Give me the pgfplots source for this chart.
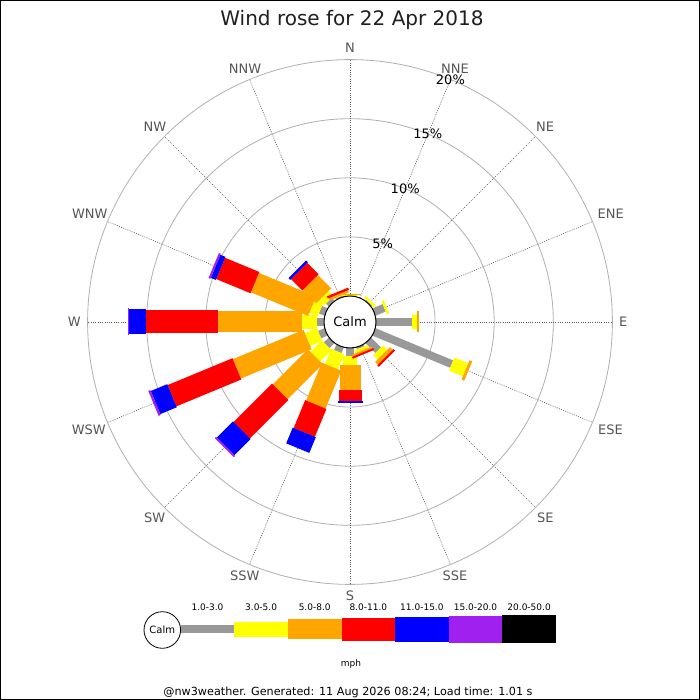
\documentclass[border=0pt]{standalone}
\usepackage{pgfplots}
\pgfplotsset{compat=1.18}
\usepackage{pgfplotstable}
\usepackage{fontspec}
\setmainfont{DejaVu Sans}
\definecolor{cgray}{RGB}{153,153,153}
\definecolor{cyellow}{RGB}{255,255,0}
\definecolor{corange}{RGB}{255,165,0}
\definecolor{cred}{RGB}{255,0,0}
\definecolor{cblue}{RGB}{0,0,255}
\definecolor{cpurple}{RGB}{160,32,240}
\definecolor{gridc}{RGB}{176,176,176}
\definecolor{dotc}{RGB}{90,90,90}
\definecolor{labc}{RGB}{85,85,85}

% cumulative percentages per direction (compass degrees)
% c1 1-3, c2 3-5, c3 5-8, c4 8-11, c5 11-15, c6 15-20 mph
\pgfplotstableread{
ang   c0 c1   c2   c3   c4    c5    c6
0     0  0.05 0.10 0.17 0.17  0.17  0.17
22.5  0  0    0    0    0     0     0
45    0  0.10 0.30 0.30 0.30  0.30  0.30
67.5  0  0.93 1.14 1.14 1.14  1.14  1.14
90    0  3.02 3.44 3.66 3.66  3.66  3.66
112.5 0  7.11 8.38 8.63 8.63  8.63  8.63
135   0  1.18 1.69 2.03 2.20  2.20  2.20
157.5 0  0.17 0.42 0.59 0.76  0.76  0.76
180   0  0.68 1.44 3.55 4.46  4.68  4.68
202.5 0  0.51 1.89 5.36 7.91  9.35  9.35
225   0  0.59 1.95 6.16 10.74 12.69 12.84
247.5 0  0.59 1.69 8.16 14.10 15.61 15.80
270   0  0.59 1.89 8.97 15.06 16.47 16.62
292.5 0  0.51 1.27 6.51 9.64  10.11 10.28
315   0  0.34 0.93 2.54 3.89  4.10  4.10
337.5 0  0.10 0.15 0.35 0.55  0.55  0.55
}\wind

\newcommand{\fs}[1]{\fontsize{#1bp}{#1bp}\selectfont}

\newcommand{\seg}[4]{%
\addplot[draw=#1, line width=#2, mark=none,
  quiver={u={11.82*(\thisrow{#4}-\thisrow{#3})*sin(\thisrow{ang})},
          v={11.82*(\thisrow{#4}-\thisrow{#3})*cos(\thisrow{ang})}}]
  table[x expr={(26+11.82*\thisrow{#3})*sin(\thisrow{ang})},
        y expr={(26+11.82*\thisrow{#3})*cos(\thisrow{ang})}] {\wind};}

\begin{document}
\begin{tikzpicture}[x=1bp,y=1bp]
\useasboundingbox (0,0) rectangle (700,700);
\fill[white] (0,0) rectangle (700,700);
% grid
\begin{scope}[shift={(350,378)}]
\foreach \r in {85.1,144.2,203.3,262.4}
  \draw[gridc, line width=0.8bp] (0,0) circle[radius=\r bp];
\foreach \a in {0,22.5,...,337.5}
  \draw[dotc, line width=0.6bp, dash pattern=on 1bp off 1.3bp] ({90-\a}:26) -- ({90-\a}:262.4);
\end{scope}

\begin{axis}[at={(0,0)}, anchor=south west, scale only axis,
  width=700bp, height=700bp, xmin=-350, xmax=350, ymin=-378, ymax=322,
  hide axis, clip=false]
\seg{cgray}{8bp}{c0}{c1}
\seg{cyellow}{14bp}{c1}{c2}
\seg{corange}{21bp}{c2}{c3}
\seg{cred}{23bp}{c3}{c4}
\seg{cblue}{25bp}{c4}{c5}
\seg{cpurple}{27bp}{c5}{c6}
\end{axis}

% calm circle
\draw[black, line width=1bp, fill=white] (350,378) circle[radius=26bp];
\node[font=\fs{13}, inner sep=0pt] at (350,378) {Calm};

% direction labels and percent labels
\begin{scope}[shift={(350,378)}]
\foreach \a/\t in {0/N,22.5/NNE,45/NE,67.5/ENE,90/E,112.5/ESE,135/SE,157.5/SSE,180/S,202.5/SSW,225/SW,247.5/WSW,270/W,292.5/WNW,315/NW,337.5/NNW}{
  \pgfmathtruncatemacro\anc{mod(630-\a,360)}
  \node[text=labc, font=\fs{13}, inner sep=0pt, anchor=\anc] at ({90-\a}:269) {\t};
}
\node[font=\fs{13}] at (67.5:85.1) {5\%};
\node[font=\fs{13}] at (67.5:144.2) {10\%};
\node[font=\fs{13}] at (67.5:203.3) {15\%};
\node[font=\fs{13}] at (67.5:262.4) {20\%};
\end{scope}

% title
\node[anchor=base, font=\fs{20}, text=black!88] at (352,674) {Wind rose for 22 Apr 2018};

% legend
\draw[black, line width=0.8bp, fill=white] (162.3,70) circle[radius=18.3bp];
\node[font=\fs{10}, inner sep=0pt] at (162.3,70) {Calm};
\fill[cgray]   (180.7,66.5) rectangle (234.3,74.5);
\fill[cyellow] (234.3,63.0) rectangle (287.9,78.0);
\fill[corange] (287.9,60.5) rectangle (341.5,80.5);
\fill[cred]    (341.5,59.0) rectangle (395.1,82.0);
\fill[cblue]   (395.1,58.0) rectangle (448.7,83.0);
\fill[cpurple] (448.7,57.0) rectangle (502.3,84.0);
\fill[black]   (502.3,56.5) rectangle (555.9,84.5);
\foreach \x/\t in {207.5/1.0-3.0,261.1/3.0-5.0,314.7/5.0-8.0,368.3/8.0-11.0,421.9/11.0-15.0,475.5/15.0-20.0,529.1/20.0-50.0}
  \node[anchor=base, font=\fs{9}, inner sep=0pt] at (\x,89) {\t};
\node[anchor=base, font=\fs{9}, inner sep=0pt] at (351,33) {mph};

% footer
\node[anchor=base, font=\fs{11.2}, inner sep=0pt] at (348,4.5) {@nw3weather. Generated: 11 Aug 2026 08:24; Load time: 1.01 s};

% frame
\draw[black, line width=1bp] (0.5,0.5) rectangle (699.5,699.5);
\end{tikzpicture}
\end{document}
